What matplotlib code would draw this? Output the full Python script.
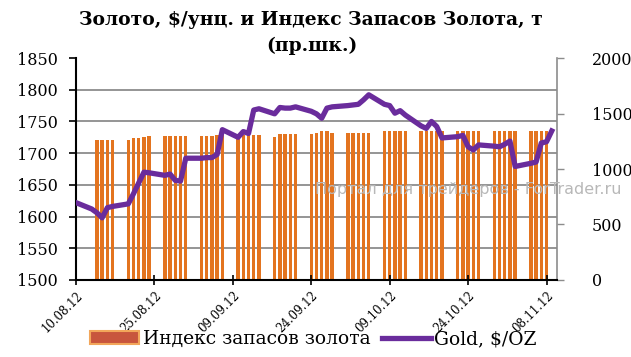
import numpy as np
import pandas as pd
import matplotlib
matplotlib.use('Agg')
import matplotlib.pyplot as plt
from matplotlib.patches import Patch
from matplotlib.lines import Line2D
from matplotlib.ticker import FixedLocator

plt.rcParams['font.family'] = ['DejaVu Serif']

# gold price, $/oz (business days)
gold_dates = pd.bdate_range('2012-08-10', '2012-11-09')
gold = [1622, 1612, 1606, 1598, 1614, 1616, 1620, 1636, 1653, 1670, 1669, 1665, 1667, 1657, 1656, 1692,
        1692, 1693, 1693, 1698, 1737, 1725, 1734, 1731, 1768, 1770, 1762, 1772, 1771, 1771, 1773,
        1766, 1762, 1755, 1771, 1773,
        1775, 1776, 1777, 1784, 1792, 1777, 1775, 1763, 1767, 1760, 1743, 1739, 1750, 1742, 1724,
        1726, 1728, 1710, 1705, 1713, 1711, 1710, 1714, 1719, 1679,
        1684, 1686, 1716, 1718, 1735]

# gold stock index, tonnes (right scale)
stock_dates = pd.bdate_range('2012-08-14', '2012-11-08')
stock = [1265, 1265, 1265, 1265,
         1265, 1278, 1278, 1287, 1296,
         1299, 1299, 1299, 1299, 1299,
         1299, 1299, 1299, 1302, 1302,
         1302, 1302, 1305, 1308, 1308,
         1287, 1314, 1314, 1314, 1314,
         1311, 1323, 1344, 1344, 1323,
         1326, 1326, 1326, 1326, 1326,
         1344, 1344, 1344, 1344, 1344,
         1344, 1344, 1344, 1344, 1344,
         1344, 1344, 1344, 1344, 1344,
         1344, 1344, 1344, 1344, 1344,
         1344, 1344, 1344, 1344]

tick_dates = pd.date_range('2012-08-10', periods=7, freq='15D')
tick_labels = ['10.08.12', '25.08.12', '09.09.12', '24.09.12', '09.10.12', '24.10.12', '08.11.12']

bar_color = '#E3741F'
line_color = '#6A2C9C'

fig = plt.figure(figsize=(6.31, 3.57), dpi=100)
ax = fig.add_axes([0.1204, 0.2157, 0.7623, 0.6218])
ax2 = ax.twinx()

ax2.bar(stock_dates, stock, width=0.66, color=bar_color, zorder=2)
ax.plot(gold_dates, gold, color=line_color, lw=3.8, solid_joinstyle='round', zorder=3)

ax.set_zorder(ax2.get_zorder() + 1)
ax.patch.set_visible(False)

ax.set_ylim(1500, 1850)
ax.set_yticks(np.arange(1500, 1851, 50))
ax2.set_ylim(0, 2000)
ax2.set_yticks(np.arange(0, 2001, 500))
ax.set_xlim(pd.Timestamp('2012-08-10'), pd.Timestamp('2012-11-10'))

# grid lines at the left-scale steps, behind the bars
ax2.yaxis.set_minor_locator(FixedLocator(np.linspace(0, 2000, 8)[1:]))
ax2.grid(which='minor', axis='y', color='#8c8c8c', lw=1.3)
ax2.set_axisbelow(True)
ax2.tick_params(which='minor', length=0)

ax.set_xticks(tick_dates)
ax.set_xticklabels(tick_labels, rotation=45, ha='right', rotation_mode='anchor', fontsize=8.5)
ax.tick_params(axis='x', direction='inout', length=7, width=1.2, pad=3)
ax.tick_params(axis='y', direction='out', length=5, width=1.2, labelsize=11.5, pad=8)
ax2.tick_params(axis='y', direction='out', length=5, width=1.0, color='#8c8c8c', labelsize=11.5, pad=20)

for s in ['top', 'right']:
    ax.spines[s].set_visible(False)
for s in ['top', 'left', 'bottom']:
    ax2.spines[s].set_visible(False)
ax.spines['left'].set_linewidth(1.5)
ax.spines['bottom'].set_linewidth(1.5)
ax2.spines['right'].set_color('#8c8c8c')
ax2.spines['right'].set_linewidth(1.2)

fig.text(0.493, 0.968, 'Золото, $/унц. и Индекс Запасов Золота, т',
         ha='center', va='top', fontsize=13.5, fontweight='bold')
fig.text(0.495, 0.898, '(пр.шк.)',
         ha='center', va='top', fontsize=13.5, fontweight='bold')

fig.text(0.742, 0.468, 'Портал для трейдеров - ForTrader.ru', family='DejaVu Sans',
         fontsize=11.5, color='#b8b8b8', ha='center', va='center', zorder=10)

handles = [Patch(facecolor='#C8553D', edgecolor='#F2A65A', lw=1.5),
           Line2D([], [], color=line_color, lw=3.8)]
fig.legend(handles, ['Индекс запасов золота', 'Gold, $/OZ'], loc='center',
           bbox_to_anchor=(0.497, 0.05), ncol=2, frameon=False, fontsize=13.5,
           handlelength=2.6, handletextpad=0.2, columnspacing=0.6)

fig.savefig('out.png', dpi=100)
